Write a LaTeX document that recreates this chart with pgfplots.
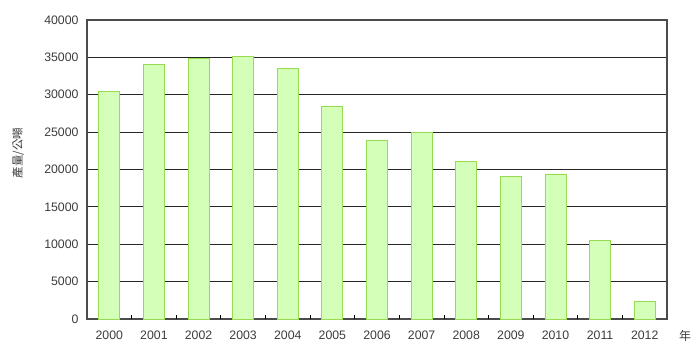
\documentclass[border=0pt]{standalone}
\usepackage{pgfplots}
\pgfplotsset{compat=1.18}
\usepackage{fontspec}
\setmainfont{Liberation Sans}
\newfontfamily\cjk{Noto Sans CJK TC}
\definecolor{barfill}{RGB}{212,255,185}
\definecolor{barline}{RGB}{150,220,80}
\definecolor{txt}{RGB}{60,60,60}
\begin{document}
\begin{tikzpicture}[x=1pt,y=1pt]
\path[use as bounding box] (0,0) rectangle (700,357);
\begin{axis}[at={(87pt,38pt)}, anchor=south west, scale only axis,
  width=580pt, height=299pt,
  xmin=-0.5, xmax=12.5, ymin=0, ymax=40000,
  ytick={0,5000,...,40000}, ymajorgrids,
  grid style={black!85, line width=0.9pt},
  xtick={0,...,12},
  xticklabels={2000,2001,2002,2003,2004,2005,2006,2007,2008,2009,2010,2011,2012},
  major tick length=0pt, tick pos=left,
  extra x ticks={0.5,1.5,...,11.5}, extra x tick labels={},
  extra x tick style={major tick length=4pt, tick align=inside, tick style={black, line width=0.8pt}},
  scaled y ticks=false,
  /pgf/number format/1000 sep={},
  /pgf/number format/assume math mode=true,
  ticklabel style={font=\fontsize{12.3}{12}\selectfont, text=txt},
  yticklabel style={xshift=-5pt},
  xticklabel style={yshift=-8pt},
  axis line style={draw=black!70, line width=1.2pt},
  ybar, bar width=21pt,
  ylabel={\cjk 產量/公噸},
  every axis y label/.style={at={(axis description cs:0,0.555)}, rotate=90, anchor=center, yshift=69pt, font=\fontsize{11.5}{12}\selectfont, text=txt},
  xlabel={\cjk 年},
  every axis x label/.style={at={(axis description cs:1,0)}, anchor=center, xshift=18pt, yshift=-17pt, font=\fontsize{12}{12}\selectfont, text=txt},
]
\addplot[fill=barfill, draw=barline, line width=0.9pt] coordinates {
(0,30500) (1,34100) (2,34800) (3,35100) (4,33500) (5,28500) (6,23900)
(7,24900) (8,21100) (9,19100) (10,19400) (11,10500) (12,2300)};
\end{axis}
\end{tikzpicture}
\end{document}
